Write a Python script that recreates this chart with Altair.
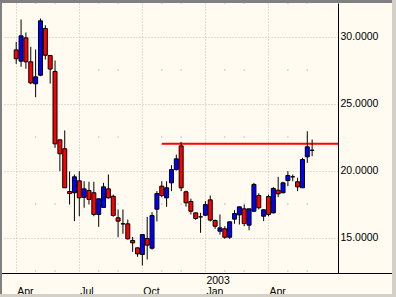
import altair as alt
import pandas as pd

# ---- data (weekly candles, first week starting 2002-04-01) ----
start_date = "2002-04-01"
opens  = [29.00, 28.16, 29.90, 28.11, 26.47, 27.11, 30.60, 28.58, 27.39, 22.29,
          21.62, 18.43, 18.34, 19.23, 18.00, 18.51, 18.34, 16.72, 17.24, 18.63,
          18.08, 16.47, 16.02, 16.02, 14.78, 14.23, 13.73, 14.93, 14.20, 17.11,
          18.83, 17.96, 19.08, 20.07, 21.84, 18.41, 17.69, 16.84, 16.54, 16.66,
          17.81, 16.27, 15.47, 15.65, 15.02, 16.37, 16.69, 17.14, 15.92, 16.96,
          18.13, 16.59, 18.06, 16.84, 18.53, 18.34, 19.25, 19.53, 19.16, 18.71,
          21.02, 21.51]
highs  = [29.60, 31.27, 30.30, 29.23, 29.03, 31.34, 30.84, 28.60, 28.21, 22.30,
          22.99, 19.93, 19.70, 19.95, 19.20, 19.16, 19.16, 17.90, 19.08, 19.70,
          18.20, 17.09, 17.09, 16.34, 15.04, 14.23, 15.22, 16.54, 16.89, 18.46,
          19.20, 19.20, 20.40, 21.19, 22.14, 18.50, 17.90, 16.84, 16.84, 17.71,
          18.13, 16.34, 16.72, 15.84, 16.20, 17.04, 17.30, 17.46, 17.14, 19.08,
          18.30, 17.10, 18.20, 18.76, 19.53, 19.16, 19.95, 19.70, 19.46, 20.95,
          22.93, 22.31]
lows   = [27.96, 27.74, 27.59, 26.44, 25.47, 27.04, 28.28, 26.49, 21.69, 19.95,
          18.70, 17.46, 16.22, 16.59, 17.22, 17.46, 16.59, 15.80, 17.20, 17.90,
          16.55, 15.02, 15.28, 14.85, 13.93, 13.56, 12.91, 13.36, 14.10, 16.20,
          18.00, 17.29, 18.46, 20.00, 18.46, 17.30, 16.72, 16.32, 15.35, 16.60,
          16.20, 15.65, 15.22, 14.90, 14.90, 16.02, 15.97, 15.84, 15.54, 16.90,
          17.10, 16.22, 16.59, 16.80, 18.01, 18.30, 18.83, 19.20, 18.46, 18.70,
          20.57, 21.07]
closes = [28.34, 30.05, 28.11, 26.54, 26.99, 31.17, 28.60, 27.57, 21.99, 21.25,
          18.71, 18.28, 19.53, 17.96, 18.63, 17.84, 16.72, 17.89, 18.78, 17.96,
          16.64, 16.22, 16.02, 14.90, 14.60, 13.78, 15.22, 14.43, 16.64, 18.28,
          18.13, 18.71, 20.07, 20.87, 18.71, 17.59, 16.96, 16.42, 16.54, 17.46,
          16.30, 15.84, 15.72, 15.02, 16.17, 16.79, 17.29, 16.04, 17.14, 18.96,
          17.22, 17.07, 16.72, 18.66, 18.26, 19.08, 19.63, 19.53, 18.78, 20.82,
          21.77, 21.51]

# resistance line
resist_start = "2002-10-28"
resist_level = 22.0

# axis ticks
tick_dates = ["2002-04-01", "2002-07-01", "2002-09-30", "2002-12-30", "2003-03-31"]
month_labels = ["Apr", "Jul", "Oct", "Jan", "Apr"]
year_labels = ["", "", "", "2003", ""]
y_ticks = [15, 20, 25, 30]

# minor dot grid (week offsets from start, price levels)
minor_weeks = [4, 8, 17, 21, 30, 34, 43, 47, 56, 60]
minor_levels = [12.5, 17.5, 22.5, 27.5, 32.5]

# ---- build tables ----
d0 = pd.Timestamp(start_date, tz="UTC")
dates = [(d0 + pd.Timedelta(days=7 * i)).strftime("%Y-%m-%d") for i in range(len(opens))]
df = pd.DataFrame({"date": dates, "open": opens, "high": highs, "low": lows, "close": closes})
df["dir"] = ["up" if c > o else ("down" if c < o else "flat") for o, c in zip(opens, closes)]

minor = pd.DataFrame(
    [{"date": (d0 + pd.Timedelta(days=7 * w)).strftime("%Y-%m-%d"), "level": lv}
     for w in minor_weeks for lv in minor_levels]
)

W, H = 336, 270
px_per_day = 5 / 7
first_px = 9.5
ms_day = 86400000
d0_ms = d0.value // 10**6
dom = [d0_ms - first_px / px_per_day * ms_day, d0_ms + (W - first_px) / px_per_day * ms_day]

tick_ms = [pd.Timestamp(t, tz="UTC").value // 10**6 for t in tick_dates]
expr = ""
for ms, y, m in zip(tick_ms, year_labels, month_labels):
    expr += f"abs(time(datum.value) - {ms}) < 3600000 ? ['{y}', '{m}'] : "
expr += "''"

FONT = "Liberation Sans"
GRID = "#BEBEBE"

xscale = alt.Scale(type="utc", domain=dom)
yscale = alt.Scale(domain=[12.351, 32.5], nice=False, zero=False)

xaxis = alt.Axis(values=tick_ms, labelExpr=expr, title=None, grid=True, gridColor=GRID,
                 gridDash=[1, 2], ticks=False, domain=False, labelAlign="left",
                 labelOffset=0.5, labelBaseline="top", labelPadding=2.5, labelLineHeight=10.5,
                 labelFont=FONT, labelFontSize=10.5, labelColor="black",
                 labelOverlap=False, labelBound=False, labelFlush=False)
yaxis = alt.Axis(orient="right", values=y_ticks, format=".4f", title=None, grid=True,
                 gridColor=GRID, gridDash=[1, 2], ticks=False, domainColor="black",
                 labelPadding=2, labelFont=FONT, labelFontSize=10.5, labelColor="black",
                 labelBaseline="middle")

base = alt.Chart(df)

dots = alt.Chart(minor).mark_square(size=1.5, color="#A8A8A8", opacity=1).encode(
    x=alt.X("date:T", scale=xscale, axis=xaxis),
    y=alt.Y("level:Q", scale=yscale, axis=yaxis),
)

wicks = base.mark_rule(color="black", strokeWidth=1).encode(
    x=alt.X("date:T", scale=xscale, axis=xaxis),
    y=alt.Y("low:Q", scale=yscale, axis=yaxis),
    y2="high:Q",
)

bodies = base.mark_bar(size=4, stroke="black", strokeWidth=1).encode(
    x=alt.X("date:T", scale=xscale, axis=xaxis),
    y=alt.Y("open:Q", scale=yscale, axis=yaxis),
    y2="close:Q",
    color=alt.Color("dir:N", scale=alt.Scale(domain=["up", "down", "flat"],
                                               range=["#0000FF", "#FF0000", "#000000"]),
                    legend=None),
)

resist = alt.Chart(pd.DataFrame({"date": [resist_start], "level": [resist_level]})).mark_rule(
    color="#FF0000", strokeWidth=2).encode(
    x=alt.X("date:T", scale=xscale, axis=xaxis),
    x2=alt.value(W),
    y=alt.Y("level:Q", scale=yscale, axis=yaxis),
)

def frame(x1, x2, y1, y2, col):
    return alt.Chart(alt.Data(values=[{}])).mark_rect(color=col).encode(
        x=alt.value(x1), x2=alt.value(x2), y=alt.value(y1), y2=alt.value(y2))

# bottom axis line running across the label panel too
base_line = alt.Chart(alt.Data(values=[{}])).mark_rule(color="black", strokeWidth=1).encode(
    x=alt.value(-2), x2=alt.value(391), y=alt.value(H + 0.5))

frames = [
    frame(-2, 394, -3, 0, "#808080"),
    frame(-2, 0, -3, 294, "#808080"),
    frame(390, 394, -3, 294, "#D4D0C8"),
    frame(-2, 394, 291, 294, "#D4D0C8"),
]

chart = alt.layer(dots, resist, wicks, bodies, base_line, *frames).properties(
    width=W, height=H,
    autosize=alt.AutoSizeParams(type="none"),
    padding={"left": 2, "top": 3, "right": 58, "bottom": 24},
    background="#FFFBF0",
).configure_view(stroke=None)

chart.save("out.html", embed_options={"renderer": "svg", "actions": False})
